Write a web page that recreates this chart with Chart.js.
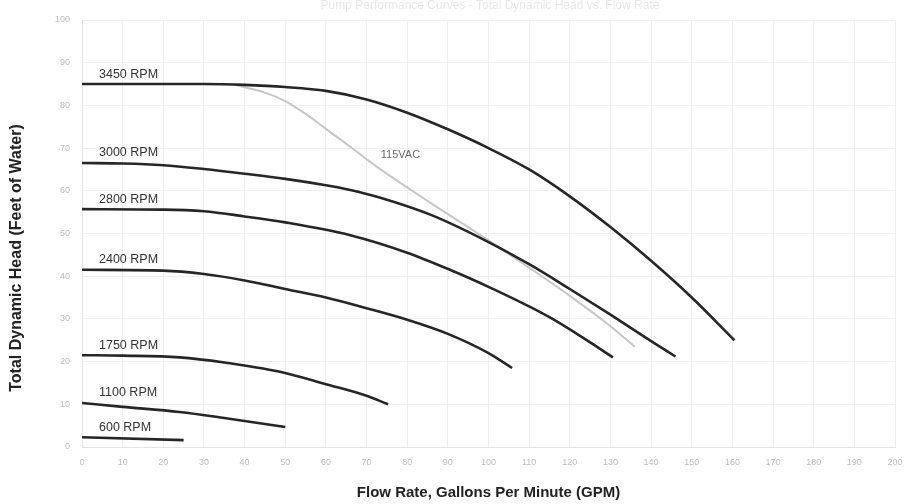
<!DOCTYPE html>
<html><head><meta charset="utf-8">
<script src="https://cdn.jsdelivr.net/npm/chart.js@4"></script>
<style>html,body{margin:0;padding:0;background:#fff}#wrap{width:908px;height:504px;position:relative}</style>
</head><body><div id="wrap"><canvas id="c"></canvas></div>
<script>
// ---- data ----
const chartTitle = 'Pump Performance Curves - Total Dynamic Head vs. Flow Rate';
const xTitle = 'Flow Rate, Gallons Per Minute (GPM)';
const yTitle = 'Total Dynamic Head (Feet of Water)';

const rpm3450Gpm  = [0,10,20,30,40,50,60,70,80,90,100,110,120,130,140,150,160.5];
const rpm3450Head = [85,85,85,85,84.8,84.3,83.4,81.4,78.3,74.4,70,65,58.7,51.5,43.6,35,25];

const vac115Gpm  = [38,45,50,55,60,66,73,80,86,95,100,110,120,130,136];
const vac115Head = [84.7,83,81,78,74.5,70.3,65.3,60.8,57,51.5,48.4,42,35.4,28.3,23.5];

const rpm3000Gpm  = [0,10,20,30,40,50,60,66,73,86,100,110,120,130,140,146];
const rpm3000Head = [66.5,66.4,66,65.1,64,62.8,61.3,60.2,58.5,54.3,48,42.8,37,31,24.8,21.2];

const rpm2800Gpm  = [0,20,30,40,50,66,80,90.5,100,115,125,130.6];
const rpm2800Head = [55.7,55.6,55.2,54,52.6,49.6,45.5,41.5,37.5,30.4,24.5,21];

const rpm2400Gpm  = [0,20,30,40,50,60,70,80,90,100,105.8];
const rpm2400Head = [41.5,41.3,40.5,39,37,35,32.5,29.8,26.5,22,18.5];

const rpm1750Gpm  = [0,10,24,35,48.7,60,70,75.3];
const rpm1750Head = [21.5,21.4,21,19.8,17.6,14.7,12,10];

const rpm1100Gpm  = [0,10,24,35,50];
const rpm1100Head = [10.3,9.4,8.2,6.8,4.7];

const rpm600Gpm  = [0,25];
const rpm600Head = [2.3,1.6];

const curveLabels = ['3450 RPM','115VAC','3000 RPM','2800 RPM','2400 RPM','1750 RPM','1100 RPM','600 RPM'];
const vacLabelAt = {x: 73.5, y: 68.5};

const xTicks = {min:0, max:200, step:10};
const yTicks = {min:0, max:100, step:10};

// ---- build ----
const FONT = '"Liberation Sans", Arial, sans-serif';
function pts(xs, ys){ return xs.map((x,i)=>({x:x, y:ys[i]})); }
const series = [
  [rpm3450Gpm, rpm3450Head, false],
  [vac115Gpm, vac115Head, true],
  [rpm3000Gpm, rpm3000Head, false],
  [rpm2800Gpm, rpm2800Head, false],
  [rpm2400Gpm, rpm2400Head, false],
  [rpm1750Gpm, rpm1750Head, false],
  [rpm1100Gpm, rpm1100Head, false],
  [rpm600Gpm, rpm600Head, false]
];
const datasets = series.map((s,i)=>({
  label: curveLabels[i],
  data: pts(s[0], s[1]),
  borderColor: s[2] ? '#c6c6c6' : '#262626',
  borderWidth: s[2] ? 2 : 2.6,
  pointRadius: 0,
  fill: false,
  cubicInterpolationMode: 'monotone',
  isVac: s[2],
  order: s[2] ? 2 : 1
}));

const labelPlugin = {
  id: 'labels',
  afterDatasetsDraw(chart){
    const ctx = chart.ctx;
    ctx.save();
    ctx.textBaseline = 'middle';
    ctx.textAlign = 'left';
    chart.data.datasets.forEach((ds,i)=>{
      const meta = chart.getDatasetMeta(i);
      if (ds.isVac){
        ctx.font = '11px ' + FONT;
        ctx.fillStyle = '#6a6a6a';
        ctx.fillText(ds.label, chart.scales.x.getPixelForValue(vacLabelAt.x), chart.scales.y.getPixelForValue(vacLabelAt.y));
      } else {
        const p = meta.data[0];
        ctx.font = '12.5px ' + FONT;
        ctx.fillStyle = '#333333';
        ctx.fillText(ds.label, p.x + 17, p.y - 10);
      }
    });
    ctx.restore();
  },
  afterDraw(chart){
    const ctx = chart.ctx;
    ctx.save();
    ctx.font = '12px ' + FONT;
    ctx.fillStyle = '#e8e8e8';
    ctx.textAlign = 'center';
    ctx.textBaseline = 'middle';
    ctx.fillText(chartTitle, 490, 6);
    // y axis title
    ctx.translate(17, 258);
    ctx.rotate(-Math.PI/2);
    ctx.font = 'bold 16px ' + FONT;
    ctx.fillStyle = '#222';
    ctx.fillText(yTitle, 0, 0);
    ctx.restore();
  }
};

new Chart(document.getElementById('c'), {
  type: 'line',
  data: { datasets },
  plugins: [labelPlugin],
  options: {
    responsive: true,
    maintainAspectRatio: false,
    animation: false,
    layout: { padding: { top: 20, right: 13, bottom: 0, left: 0 } },
    plugins: { legend: { display: false }, tooltip: { enabled: false }, title: { display: false } },
    scales: {
      x: {
        type: 'linear', min: xTicks.min, max: xTicks.max,
        ticks: { stepSize: xTicks.step, color: '#bcbcbc', font: { size: 9, family: FONT }, padding: 0, maxRotation: 0, autoSkip: false },
        grid: { color: '#eeeeee', drawTicks: true, tickLength: 10, tickColor: 'rgba(0,0,0,0)' },
        border: { color: '#e4e4e4' },
        title: { display: true, text: xTitle, color: '#222', font: { size: 15, weight: 'bold', family: FONT }, padding: { top: 0, bottom: 2 } },
        afterFit(scale){ scale.height = 57; }
      },
      y: {
        type: 'linear', min: yTicks.min, max: yTicks.max,
        ticks: { stepSize: yTicks.step, color: '#bcbcbc', font: { size: 9, family: FONT }, padding: 12 },
        grid: { color: '#eeeeee', drawTicks: false },
        border: { color: '#e4e4e4' },
        title: { display: false },
        afterFit(scale){ scale.width = 82; }
      }
    }
  }
});
</script></body></html>
